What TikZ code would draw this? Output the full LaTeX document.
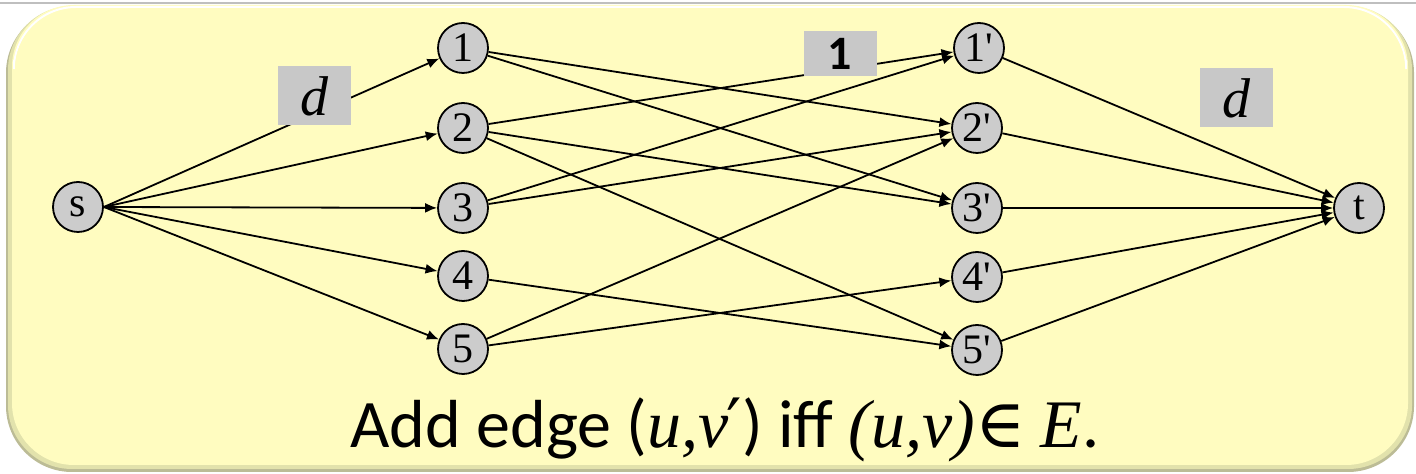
\documentclass[tikz,border=0pt]{standalone}
\usepackage{fontspec}
\setmainfont{Liberation Serif}
\newfontfamily\calfont{Carlito}
\newfontfamily\djfont{DejaVu Serif}
\newcommand\mvar[1]{{\rmfamily\itshape #1}}
\usetikzlibrary{arrows.meta}
\definecolor{bgyellow}{RGB}{255,252,192}
\definecolor{bgdark}{RGB}{188,188,150}
\definecolor{bgmid}{RGB}{226,226,172}
\definecolor{nodegray}{RGB}{204,204,204}
\definecolor{lblgray}{RGB}{200,200,200}
\begin{document}
\begin{tikzpicture}[x=0.5pt,y=-0.5pt,
  vert/.style={circle,draw=black,line width=0.9pt,fill=nodegray,minimum size=25pt,inner sep=0pt,font=\fontsize{21}{24}\selectfont},
  edge/.style={line width=0.9pt,-{Latex[length=6pt,width=5pt]}},
  lbl/.style={fill=lblgray,inner sep=0pt,minimum width=36.5pt,minimum height=29.5pt}]
\useasboundingbox (0,0) rectangle (1416,474);
% background panel
\draw[black!25, line width=0.8pt] (0,3) -- (1416,3);
\fill[bgdark, rounded corners=33pt] (6,7) rectangle (1414,472);
\fill[bgmid, rounded corners=32pt] (8,6) rectangle (1412,469);
\fill[bgyellow, rounded corners=31pt] (12,5) rectangle (1408,465);
\draw[white, line width=1pt, rounded corners=31pt] (14,60) -- (14,7) -- (1406,7) -- (1406,60);
\fill[bgyellow, rounded corners=30pt] (15,9) rectangle (1405,463);
% vertices
\node[vert] (s) at (78,207) {s};
\node[vert] (n1) at (463,48) {1};
\node[vert] (n2) at (463,128) {2};
\node[vert] (n3) at (463,208) {3};
\node[vert] (n4) at (463,276) {4};
\node[vert] (n5) at (463,349) {5};
\node[vert] (m1) at (979,48) {1\textquotesingle};
\node[vert] (m2) at (977,128) {2\textquotesingle};
\node[vert] (m3) at (977,208) {3\textquotesingle};
\node[vert] (m4) at (977,277) {4\textquotesingle};
\node[vert] (m5) at (977,350) {5\textquotesingle};
\node[vert] (t) at (1359,208) {t};
% edges from s
\foreach \v in {n1,n2,n3,n4,n5} \draw[edge] (s.east) -- (\v);
% middle edges
\draw[edge] (n1) -- (m2);
\draw[edge] (n1) -- (m3);
\draw[edge] (n2) -- (m1);
\draw[edge] (n2) -- (m3);
\draw[edge] (n2) -- (m5);
\draw[edge] (n3) -- (m1);
\draw[edge] (n3) -- (m2);
\draw[edge] (n4) -- (m5);
\draw[edge] (n5) -- (m2);
\draw[edge] (n5) -- (m4);
% edges to t
\foreach \v in {m1,m2,m3,m4,m5} \draw[edge] (\v) -- (t);
% capacity labels
\node[lbl, font=\fontsize{28}{30}\selectfont\itshape] (d1) at (314,96) {d};
\node[lbl, minimum height=22.5pt, font=\calfont\bfseries\fontsize{24}{26}\selectfont] (one) at (840,54) {1};
\node[lbl, font=\fontsize{28}{30}\selectfont\itshape] (d2) at (1236,98) {d};
% caption
\node[anchor=base, inner sep=0pt, font=\calfont\fontsize{34}{40}\selectfont] (cap) at (725,448)
  {Add edge (\mvar{u,v}{\djfont\kern-1pt ′}) iff \mvar{(u,v)}{\djfont ∈} \mvar{E}.};
\end{tikzpicture}
\end{document}
